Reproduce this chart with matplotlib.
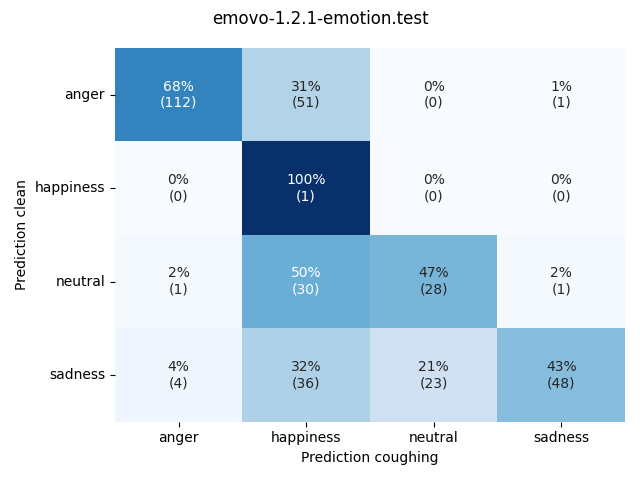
import numpy as np
import matplotlib
matplotlib.use('Agg')
import matplotlib.pyplot as plt
import seaborn as sns

labels = ['anger', 'happiness', 'neutral', 'sadness']
# rows: prediction clean, columns: prediction coughing
counts = np.array([
    [112, 51, 0, 1],
    [0, 1, 0, 0],
    [1, 30, 28, 1],
    [4, 36, 23, 48],
])

pct = counts / counts.sum(axis=1, keepdims=True)
annot = np.array([[f'{p:.0%}\n({c})' for p, c in zip(prow, crow)]
                  for prow, crow in zip(pct, counts)])

fig, ax = plt.subplots(figsize=(6.4, 4.8), dpi=100)
sns.heatmap(pct, annot=annot, fmt='', cmap='Blues', cbar=False,
            vmin=0, vmax=1, xticklabels=labels, yticklabels=labels, ax=ax)
ax.set_yticklabels(labels, rotation=0)
ax.set_xlabel('Prediction coughing')
ax.set_ylabel('Prediction clean')
fig.suptitle('emovo-1.2.1-emotion.test')
fig.tight_layout()
fig.savefig('out.png')
